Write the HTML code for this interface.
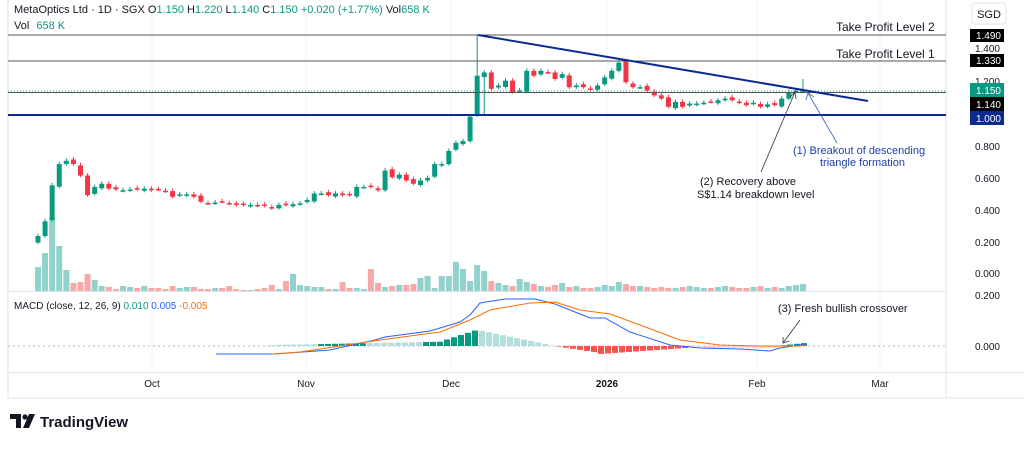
<!DOCTYPE html>
<html><head><meta charset="utf-8"><style>
body{margin:0;background:#fff;width:1024px;height:448px;overflow:hidden;font-family:"Liberation Sans",sans-serif}
svg text{font-family:"Liberation Sans",sans-serif}
</style></head><body>
<svg id="s" width="1024" height="448" xmlns="http://www.w3.org/2000/svg">
<rect x="0" y="0" width="1024" height="448" fill="#fff"/>
<g stroke="#f0f3fa" stroke-width="1">
<line x1="152" y1="0" x2="152" y2="372"/><line x1="306" y1="0" x2="306" y2="372"/><line x1="451" y1="0" x2="451" y2="372"/><line x1="607" y1="0" x2="607" y2="372"/><line x1="757" y1="0" x2="757" y2="372"/><line x1="880" y1="0" x2="880" y2="372"/>
</g>
<line x1="8" y1="0" x2="8" y2="398" stroke="#e0e3eb"/>
<line x1="946" y1="0" x2="946" y2="398" stroke="#e0e3eb"/>
<line x1="8" y1="291.5" x2="946" y2="291.5" stroke="#e0e3eb"/>
<line x1="8" y1="372.5" x2="1024" y2="372.5" stroke="#e0e3eb"/>
<line x1="8" y1="398" x2="1024" y2="398" stroke="#e0e3eb"/>
<g id="vol"></g><g id="cnd"></g>
<line x1="8" y1="35" x2="946" y2="35" stroke="#555" stroke-width="1"/>
<line x1="8" y1="61" x2="946" y2="61" stroke="#555" stroke-width="1"/>
<line x1="8" y1="91" x2="946" y2="91" stroke="#26a69a" stroke-dasharray="1 2"/>
<line x1="8" y1="92.5" x2="946" y2="92.5" stroke="#555" stroke-width="1"/>
<line x1="8" y1="115" x2="946" y2="115" stroke="#0d2a8f" stroke-width="2"/>
<line x1="478" y1="35" x2="868" y2="101" stroke="#0d2a8f" stroke-width="2"/>
<line x1="8" y1="346" x2="946" y2="346" stroke="#b2b5be" stroke-dasharray="2 3"/>
<g id="hist"></g>
<polyline fill="none" stroke="#2962ff" stroke-width="1" points="216,354 275,354 330,350 375,340 385,337 430,331 460,322 470,315 480,303 505,299 535,299 555,304 590,318 605,318 630,332 670,345 700,348 740,349 770,351 780,348 806,344"/>
<polyline fill="none" stroke="#ff6d00" stroke-width="1" points="272,354 300,352 380,340 440,332 470,320 490,310 530,303 555,302 580,310 610,314 640,325 680,340 720,345 760,346 800,346 806,345"/>
<text x="14" y="13" font-size="11" fill="#131722">MetaOptics Ltd · 1D · SGX <tspan>O</tspan><tspan fill="#089981">1.150</tspan> H<tspan fill="#089981">1.220</tspan> L<tspan fill="#089981">1.140</tspan> C<tspan fill="#089981">1.150</tspan> <tspan fill="#089981">+0.020 (+1.77%)</tspan> Vol<tspan fill="#089981">658 K</tspan></text>
<text x="14" y="29" font-size="11" fill="#131722">Vol <tspan fill="#089981" dx="4">658 K</tspan></text>
<text x="14" y="309" font-size="10" fill="#131722">MACD (close, 12, 26, 9) <tspan fill="#089981">0.010</tspan> <tspan fill="#2962ff">0.005</tspan> <tspan fill="#ff6d00">-0.005</tspan></text>
<rect x="972" y="3" width="34" height="21" rx="3" fill="#fff" stroke="#e0e3eb"/>
<text x="989" y="18" font-size="11" fill="#131722" text-anchor="middle">SGD</text>
<g font-size="10" fill="#131722" text-anchor="end">
<text x="1000" y="52">1.400</text><text x="1000" y="85">1.200</text><text x="1000" y="150">0.800</text><text x="1000" y="182">0.600</text><text x="1000" y="214">0.400</text><text x="1000" y="246">0.200</text><text x="1000" y="277">0.000</text><text x="1000" y="299">0.200</text><text x="1000" y="350">0.000</text>
</g>
<rect x="970" y="29" width="34" height="13" fill="#000"/><text x="1001" y="39" font-size="10" fill="#fff" text-anchor="end">1.490</text>
<rect x="970" y="54" width="34" height="13" fill="#000"/><text x="1001" y="64" font-size="10" fill="#fff" text-anchor="end">1.330</text>
<rect x="970" y="83" width="34" height="14" fill="#089981"/><text x="1001" y="94" font-size="10" fill="#fff" text-anchor="end">1.150</text>
<rect x="970" y="97" width="34" height="14" fill="#000"/><text x="1001" y="108" font-size="10" fill="#fff" text-anchor="end">1.140</text>
<rect x="970" y="111" width="34" height="14" fill="#0d2a8f"/><text x="1001" y="122" font-size="10" fill="#fff" text-anchor="end">1.000</text>
<g font-size="10" fill="#131722" text-anchor="middle">
<text x="152" y="387">Oct</text><text x="306" y="387">Nov</text><text x="451" y="387">Dec</text><text x="607" y="387" font-weight="bold">2026</text><text x="757" y="387">Feb</text><text x="880" y="387">Mar</text>
</g>
<text x="836" y="31" font-size="12" fill="#131722">Take Profit Level 2</text>
<text x="836" y="58" font-size="12" fill="#131722">Take Profit Level 1</text>
<text x="793" y="154" font-size="11" fill="#1c3fa8">(1) Breakout of descending</text>
<text x="820" y="166" font-size="11" fill="#1c3fa8">triangle formation</text>
<line x1="837" y1="143" x2="808" y2="93" stroke="#3a5bbf" stroke-width="0.8"/>
<polyline points="806,100 808,93 814,97" fill="none" stroke="#3a5bbf" stroke-width="0.8"/>
<text x="700" y="185" font-size="11" fill="#131722">(2) Recovery above</text>
<text x="697" y="198" font-size="11" fill="#131722">S$1.14 breakdown level</text>
<line x1="761" y1="172" x2="795" y2="92" stroke="#333" stroke-width="0.8"/>
<polyline points="790,97 795,92 796,99" fill="none" stroke="#333" stroke-width="0.8"/>
<text x="778" y="312" font-size="11" fill="#131722">(3) Fresh bullish crossover</text>
<line x1="800" y1="320" x2="783" y2="343" stroke="#333" stroke-width="0.8"/>
<polyline points="783,337 783,343 789,341" fill="none" stroke="#333" stroke-width="0.8"/>
<g transform="translate(10,414)">
<path d="M0 0h11v14h-5v-9h-6z" fill="#131722"/><circle cx="15" cy="3" r="2.6" fill="#131722"/><path d="M19 0h6l-6 14h-6z" fill="#131722"/>
</g>
<text x="40" y="427" font-size="15" font-weight="bold" fill="#131722">TradingView</text>
</svg>
<script>
var c=[.26,.35,.57,.70,.72,.70,.63,.51,.56,.58,.55,.545,.54,.545,.545,.55,.54,.545,.535,.50,.515,.515,.50,.47,.46,.465,.47,.46,.45,.45,.45,.445,.445,.43,.45,.45,.455,.46,.48,.52,.52,.51,.52,.51,.51,.56,.56,.56,.54,.66,.62,.635,.60,.58,.60,.615,.70,.70,.78,.83,.84,.99,1.24,1.26,1.16,1.18,1.21,1.14,1.15,1.27,1.24,1.27,1.26,1.22,1.25,1.17,1.18,1.17,1.155,1.18,1.23,1.27,1.32,1.20,1.17,1.17,1.15,1.12,1.10,1.05,1.08,1.05,1.07,1.07,1.075,1.08,1.09,1.10,1.09,1.075,1.06,1.075,1.05,1.065,1.06,1.10,1.14,1.15,1.15];
var vv=[24,38,73,45,21,8,9,17,11,5,4,2,5,4,3,5,3,3,2,5,3,4,4,2,2,3,3,5,2,1,1,2,3,6,2,10,17,6,5,4,4,2,2,9,3,3,2,22,8,4,5,6,6,7,13,15,3,15,15,29,22,10,26,20,10,8,6,5,12,9,7,5,4,6,8,4,5,3,3,4,6,5,9,7,5,5,4,3,4,3,3,4,5,4,3,3,4,5,4,3,3,4,5,3,4,3,5,6,7];
function Y(p){return 115-(p-1)*163.6}
var n=c.length,sp=(803-38)/(n-1),g='',v='';
for(var i=0;i<n;i++){var x=38+i*sp,o=i?c[i-1]+(i%3-1)*0.008:0.22,cl=c[i],up=cl>=o,col=up?'#089981':'#f23645';
var hi=Math.max(o,cl)+0.015,lo=Math.min(o,cl)-0.01;if(i==62)hi=1.49;if(i==63)lo=1.0;if(i==n-1)hi=1.22;
var t=Y(Math.max(o,cl)),b=Y(Math.min(o,cl));if(b-t<1.5)b=t+1.5;
g+='<line x1="'+x+'" x2="'+x+'" y1="'+Y(hi)+'" y2="'+Y(lo)+'" stroke="'+col+'"/><rect x="'+(x-2.5)+'" y="'+t+'" width="5" height="'+(b-t)+'" fill="'+col+'"/>';
var h=vv[i]||3;v+='<rect x="'+(x-3)+'" y="'+(291-h)+'" width="6" height="'+h+'" fill="'+(up?'#26a69a':'#ef5350')+'" opacity="0.5"/>';}
document.getElementById('cnd').innerHTML=g;document.getElementById('vol').innerHTML=v;
var hs='';for(var x=272;x<=806;x+=7){var h,col;
if(x<478){h=1+(x-272)/206*4+(x>440?(x-440)*0.3:0);col=(x>320&&x<370)||x>420?'#089981':'#b2dfdb';if(x<300)col='#b2dfdb';}
else if(x<555){h=16*(555-x)/77;col='#b2dfdb';}
else if(x<700){h=x<600?-(x-555)/45*7:-7*(700-x)/100-1;col=x<690?'#ff5252':'#ffcdd2';}
else if(x<780){h=-2;col='#ffcdd2';}else{h=(x-775)/30*3;col='#089981';}
hs+='<rect x="'+(x-3)+'" y="'+(h>=0?346-h:346)+'" width="6" height="'+Math.abs(h)+'" fill="'+col+'"/>';}
document.getElementById('hist').innerHTML=hs;
</script>
</body></html>
